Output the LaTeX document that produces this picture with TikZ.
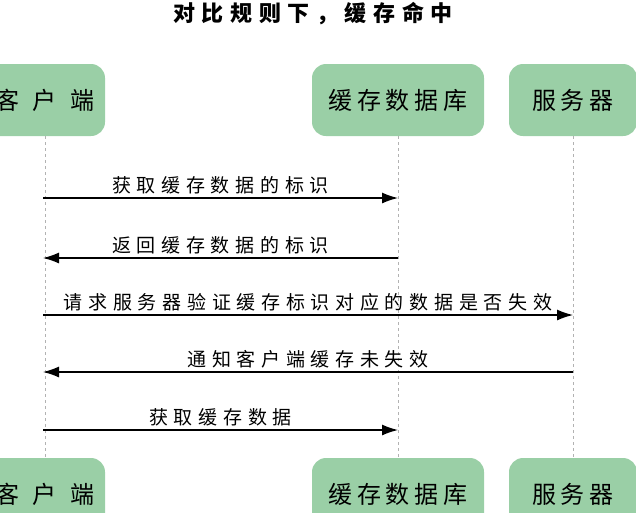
\documentclass[tikz,border=0pt]{standalone}
\usepackage{fontspec}
\newfontfamily\cjk{Noto Sans CJK SC}
\newfontfamily\cjklbl{Noto Sans CJK SC}[LetterSpace=30]
\newfontfamily\cjkbox{Noto Sans CJK SC}[LetterSpace=20]
\newfontfamily\cjkwide{Noto Sans CJK SC}[LetterSpace=55]
\usetikzlibrary{arrows.meta,positioning}
\definecolor{boxgreen}{HTML}{9ACFA6}
\tikzset{actor/.style={draw=none, fill = boxgreen,rounded corners=14pt,minimum height=72pt,font=\cjkbox\fontsize{24}{27}\selectfont},
         wide/.style={font=\cjkwide\fontsize{24}{27}\selectfont},
         life/.style={draw=gray!60,dashed,line width=0.7pt},
         msg/.style={line width=1.3pt,-{Latex[length=16pt,width=11pt]}},
         lbl/.style={font=\cjklbl\fontsize{19}{22}\selectfont,above=0pt}}
\begin{document}
\begin{tikzpicture}[x=1pt,y=-1pt]
\useasboundingbox (0,0) rectangle (636,512);
\clip (0,0) rectangle (636,512);
\node[font=\cjklbl\bfseries\fontsize{22}{25}\selectfont] (title) at (313,14) {对比规则下，缓存命中};
% top row
\node[actor,wide,minimum width=120pt] (ct) at (45,100) {客户端};
\node[actor,minimum width=172pt] (dt) at (398,100) {缓存数据库};
\node[actor,minimum width=128pt] (st) at (573,100) {服务器};
% bottom row
\node[actor,wide,minimum width=120pt] (cb) at (45,494) {客户端};
\node[actor,minimum width=172pt] (db) at (398,494) {缓存数据库};
\node[actor,minimum width=128pt] (sb) at (573,494) {服务器};
\draw[life] (ct) -- (cb);
\draw[life] (dt) -- (db);
\draw[life] (st) -- (sb);
% messages
\coordinate (c1) at (43,198); \coordinate (d1) at (398,198);
\coordinate (c2) at (43,258); \coordinate (d2) at (398,258);
\coordinate (c3) at (43,315); \coordinate (s3) at (573,315);
\coordinate (c4) at (43,372); \coordinate (s4) at (573,372);
\coordinate (c5) at (43,430); \coordinate (d5) at (398,430);
\draw[msg] (c1) -- node[lbl]{获取缓存数据的标识} (d1);
\draw[msg] (d2) -- node[lbl]{返回缓存数据的标识} (c2);
\draw[msg] (c3) -- node[lbl]{请求服务器验证缓存标识对应的数据是否失效} (s3);
\draw[msg] (s4) -- node[lbl]{通知客户端缓存未失效} (c4);
\draw[msg] (c5) -- node[lbl]{获取缓存数据} (d5);
\end{tikzpicture}
\end{document}
